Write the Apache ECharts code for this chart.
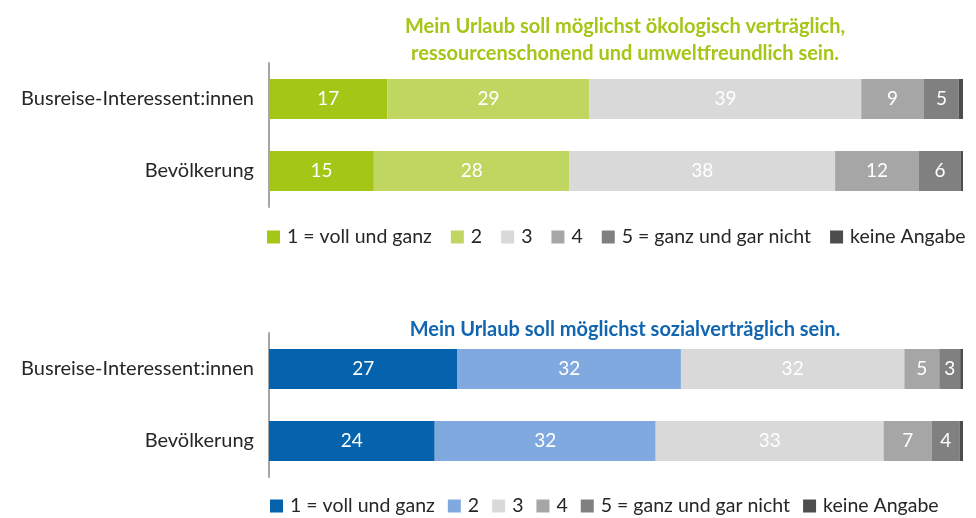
<!DOCTYPE html>
<html><head><meta charset="utf-8">
<script src="https://cdn.jsdelivr.net/npm/echarts@6/dist/echarts.min.js"></script>
<style>html,body{margin:0;padding:0;background:#fff}#c{width:976px;height:518px}</style>
</head><body><div id="c"></div>
<script>
const categories = ['Busreise-Interessent:innen', 'Bevölkerung'];
const seriesNames = ['1 = voll und ganz', '2', '3', '4', '5 = ganz und gar nicht', 'keine Angabe'];
const titleTop = 'Mein Urlaub soll möglichst ökologisch verträglich,\nressourcenschonend und umweltfreundlich sein.';
const titleBottom = 'Mein Urlaub soll möglichst sozialverträglich sein.';
// values per answer category: [Busreise-Interessent:innen, Bevölkerung]
const eco1 = [17, 15];
const eco2 = [29, 28];
const eco3 = [39, 38];
const eco4 = [9, 12];
const eco5 = [5, 6];
const ecoNA = [0.6, 0.3];
const soc1 = [27, 24];
const soc2 = [32, 32];
const soc3 = [32, 33];
const soc4 = [5, 7];
const soc5 = [3, 4];
const socNA = [0.4, 0.5];

const greenColors = ['#A3C617', '#BFD660', '#D9D9D9', '#A6A6A6', '#808080', '#4D4D4D'];
const blueColors = ['#0563AD', '#80AADF', '#D9D9D9', '#A6A6A6', '#808080', '#4D4D4D'];
const FONT = 'Lato';

function build(sets, colors, idx) {
  const sums = categories.map((_, i) => sets.reduce((a, s) => a + s[i], 0));
  return sets.map((s, k) => ({
    name: seriesNames[k],
    type: 'bar',
    stack: 'st' + idx,
    xAxisIndex: idx, yAxisIndex: idx,
    barWidth: 40,
    itemStyle: { color: colors[k] },
    emphasis: { disabled: true },
    label: {
      show: k < 5, position: 'inside', color: '#fff', fontSize: 19, fontFamily: FONT,
      formatter: p => String(p.data.raw)
    },
    data: s.map((v, i) => ({ value: v / sums[i] * 100, raw: v }))
  }));
}

const series = build([eco1, eco2, eco3, eco4, eco5, ecoNA], greenColors, 0)
  .concat(build([soc1, soc2, soc3, soc4, soc5, socNA], blueColors, 1));

function yAx(idx) {
  return {
    type: 'category', gridIndex: idx, data: categories, inverse: true,
    axisLine: { show: true, lineStyle: { color: '#A6A6A6', width: 2 } },
    axisTick: { show: false },
    axisLabel: { fontSize: 20, color: '#262626', fontFamily: FONT, margin: 15 }
  };
}
function xAx(idx) {
  return { type: 'value', gridIndex: idx, min: 0, max: 100, show: false };
}
function legend(top, left, colors, gap) {
  return {
    top: top, left: left, itemWidth: 13, itemHeight: 13, itemGap: gap,
    icon: 'rect', selectedMode: false, padding: 0,
    textStyle: { fontSize: 19.5, color: '#262626', fontFamily: FONT, padding: [0, 0, 0, 2] },
    data: seriesNames.map((n, k) => ({ name: n, itemStyle: { color: colors[k] } }))
  };
}

const chart = echarts.init(document.getElementById('c'), null, { renderer: 'canvas' });
chart.setOption({
  animation: false,
  title: [
    { text: titleTop, left: 620, top: 8, textAlign: 'center',
      textStyle: { color: '#A3C617', fontSize: 20, fontWeight: 'bold', fontFamily: FONT, lineHeight: 27, align: 'center' } },
    { text: titleBottom, left: 620, top: 311, textAlign: 'center',
      textStyle: { color: '#1266B0', fontSize: 20, fontWeight: 'bold', fontFamily: FONT, lineHeight: 27 } }
  ],
  grid: [
    { left: 269, right: 13, top: 63, height: 144 },
    { left: 269, right: 13, top: 333, height: 144 }
  ],
  xAxis: [xAx(0), xAx(1)],
  yAxis: [yAx(0), yAx(1)],
  legend: [legend(227, 267, greenColors, 19), legend(496, 270, blueColors, 13)],
  series: series
});
</script></body></html>
